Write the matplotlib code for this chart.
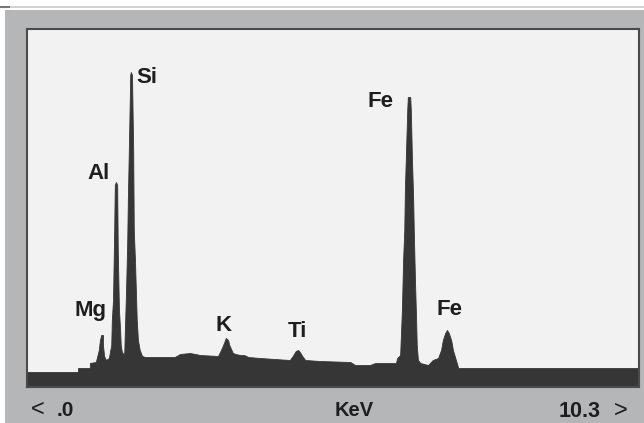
import matplotlib
matplotlib.use("Agg")
import matplotlib.pyplot as plt
from matplotlib.patches import Rectangle

# Spectrum vertices: energy (keV) and counts (arb.)
energy = [0.00, 0.86, 0.86, 1.06, 1.06, 1.16, 1.21, 1.23, 1.25, 1.28, 1.28, 1.30, 1.33, 1.38,
          1.42, 1.43, 1.45, 1.47, 1.48, 1.50, 1.52, 1.53, 1.55, 1.57, 1.58, 1.60, 1.62, 1.64,
          1.65, 1.67, 1.69, 1.70, 1.72, 1.74, 1.75, 1.77, 1.79, 1.80, 1.82, 1.84, 1.85, 1.87,
          1.90, 1.94, 1.99, 2.49, 2.58, 2.75, 2.92, 3.22, 3.27, 3.32, 3.35, 3.39, 3.41, 3.44,
          3.47, 3.52, 3.59, 3.66, 3.73, 3.93, 4.43, 4.48, 4.53, 4.57, 4.60, 4.64, 4.69, 4.94,
          5.45, 5.53, 5.78, 5.87, 6.22, 6.24, 6.29, 6.30, 6.32, 6.34, 6.36, 6.37, 6.39, 6.41,
          6.42, 6.46, 6.47, 6.49, 6.51, 6.52, 6.54, 6.56, 6.57, 6.59, 6.63, 6.76, 6.84, 6.93,
          6.98, 7.01, 7.05, 7.08, 7.11, 7.15, 7.18, 7.22, 7.27, 10.32]
counts = [150, 150, 190, 190, 240, 250, 370, 470, 520, 520, 420, 310, 270, 290,
          420, 670, 870, 1570, 2020, 2050, 2020, 1370, 770, 570, 420, 350, 330, 350,
          570, 970, 1470, 1870, 2470, 3120, 3150, 3120, 2370, 1570, 1270, 870, 670, 470,
          370, 310, 300, 300, 330, 340, 320, 310, 370, 440, 490, 470, 420, 380,
          340, 330, 320, 320, 300, 290, 270, 310, 360, 370, 350, 310, 270, 260,
          250, 220, 220, 240, 240, 290, 320, 470, 770, 1270, 1570, 1970, 2370, 2770,
          2900, 2900, 2770, 2270, 1870, 1570, 1070, 670, 420, 270, 240, 220, 270, 290,
          370, 470, 540, 570, 540, 470, 370, 290, 190, 190]

# Peak labels
labels = ["Mg", "Al", "Si", "K", "Ti", "Fe", "Fe"]
label_e = [1.25, 1.50, 1.75, 3.35, 4.57, 6.42, 7.08]
label_c = [520, 2050, 3150, 490, 370, 2900, 570]
label_dx = [-11, -17.5, 16.5, -2, -1, -27, 3]   # offsets in pixels
label_dy = [25, 9, -5, 13, 19, -4, 21]

x_min, x_max = 0.0, 10.3
x_label_left, x_label_mid, x_label_right = ".0", "KeV", "10.3"

W, H = 644, 423
fig = plt.figure(figsize=(W / 100, H / 100), dpi=100)
fig.patch.set_facecolor("#b5b6b8")

# top white strip and left white edge
fig.add_artist(Rectangle((0, 1 - 10 / H), 1, 10 / H, transform=fig.transFigure,
                         facecolor="white", edgecolor="none", zorder=0))
fig.add_artist(Rectangle((0, 0), 5 / W, 1, transform=fig.transFigure,
                         facecolor="white", edgecolor="none", zorder=0))
fig.add_artist(plt.Line2D([0, 1], [1 - 7 / H, 1 - 7 / H], transform=fig.transFigure,
                          color="#c9c9c9", lw=1.2, zorder=1))
fig.add_artist(plt.Line2D([0, 9 / W], [1 - 7 / H, 1 - 7 / H], transform=fig.transFigure,
                          color="#777777", lw=1.5, zorder=2))

left, right, top, bottom = 27, 639, 29, 387
ax = fig.add_axes([left / W, 1 - bottom / H, (right - left) / W, (bottom - top) / H])
ax.set_facecolor("#f2f2f2")
ax.fill_between(energy, counts, 0, color="#363636", lw=0.6, edgecolor="#363636")
ax.set_xlim(x_min, x_max * (right - left) / (right - left - 1))
ax.set_ylim(0, (bottom - top) * 10)
ax.set_xticks([])
ax.set_yticks([])
for s in ax.spines.values():
    s.set_color("#4a4a4a")
    s.set_linewidth(1.5)

font = dict(family="Liberation Sans", weight="bold", color="#1e1e1e")
thin = dict(family="Liberation Sans", weight="normal", color="#1e1e1e")
for name, e, c, dx, dy in zip(labels, label_e, label_c, label_dx, label_dy):
    ax.annotate(name, xy=(e, c), xytext=(dx * 0.72, dy * 0.72), textcoords="offset points",
                ha="center", va="center", fontsize=16, **font)

ybl = 1 - 410 / H
fig.text(31 / W, ybl, "<", ha="left", va="center", fontsize=17, **thin)
fig.text(57 / W, ybl, x_label_left, ha="left", va="center", fontsize=15, **font)
fig.text(354 / W, ybl, x_label_mid, ha="center", va="center", fontsize=14.5, **font)
fig.text(601 / W, 1 - 411 / H, x_label_right, ha="right", va="center", fontsize=15.5, **font)
fig.text(614 / W, 1 - 411 / H, ">", ha="left", va="center", fontsize=17, **thin)

fig.savefig("out.png", dpi=100, facecolor=fig.get_facecolor())
